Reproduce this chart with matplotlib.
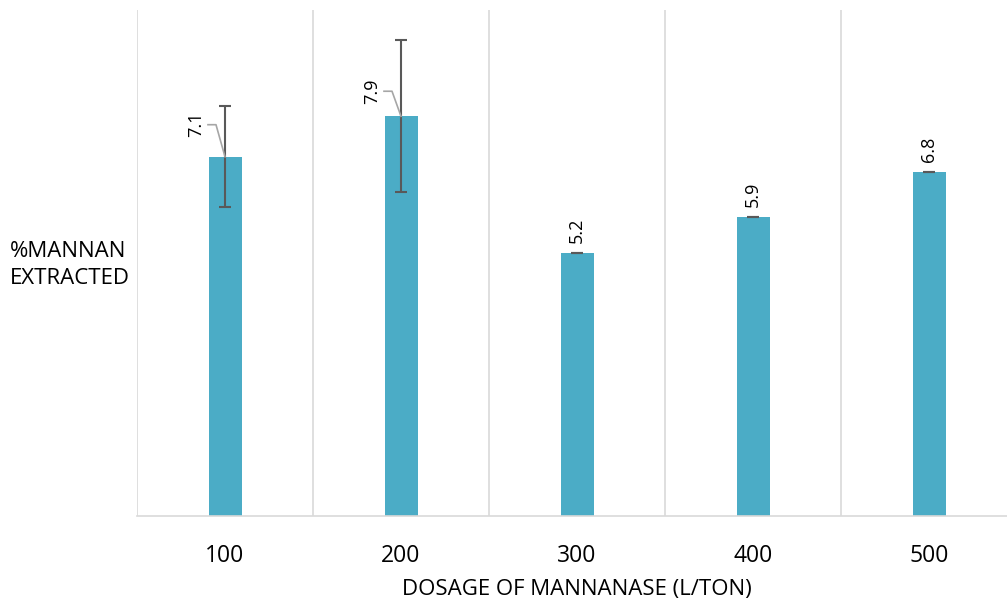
import matplotlib
matplotlib.use("Agg")
import matplotlib.pyplot as plt
import numpy as np

categories = ["100", "200", "300", "400", "500"]
values = [7.1, 7.9, 5.2, 5.9, 6.8]
errors = [1.0, 1.5, 0.0, 0.0, 0.0]
labels = ["7.1", "7.9", "5.2", "5.9", "6.8"]

plt.rcParams['font.family'] = ['Open Sans', 'DejaVu Sans']

W, H = 1007, 601
fig = plt.figure(figsize=(W/100, H/100), dpi=100)
ax = fig.add_axes([137/W, (H-516)/H, 880/W, (516-10)/H])

x = np.arange(len(categories))
ax.bar(x, values, width=0.1875, color="#4BACC6", zorder=2)
ax.errorbar(x, values, yerr=errors, fmt="none", ecolor="#595959",
            elinewidth=1.5, capsize=4, capthick=1.5, zorder=3)

ax.set_xlim(-0.5, 4.5)
ax.set_ylim(0, 10)
ax.set_xticks(x)
ax.set_xticklabels(categories, fontsize=16.5, color="#000000")
ax.set_xticks(np.arange(-0.5, 5, 1.0), minor=True)
ax.tick_params(axis="x", which="both", length=0, pad=20)
ax.set_yticks([])
ax.grid(axis="x", which="minor", color="#D9D9D9", linewidth=1.2, zorder=0)
for s in ["top", "right", "left"]:
    ax.spines[s].set_visible(False)
ax.spines["bottom"].set_color("#D9D9D9")
ax.spines["bottom"].set_linewidth(1.2)

ax.set_xlabel("DOSAGE OF MANNANASE (L/TON)", fontsize=16, color="#000000", labelpad=8)
fig.text(10/W, 1 - 265/H, "%MANNAN\nEXTRACTED", fontsize=16, ha="left", va="center",
         linespacing=1.35)

# data labels
ppu = 50.55  # pixels per unit, for converting offsets
for i, (v, e, lab) in enumerate(zip(values, errors, labels)):
    if e > 0:
        lx = i - 29/176
        ly = v + (32 if i == 0 else 25)/ppu
        ax.text(lx, ly, lab, rotation=90, fontsize=13, ha="center", va="center", color="#000000")
        ax.plot([i - 17/176, i - 9/176, i], [ly, ly, v], color="#A6A6A6", lw=1.2, zorder=4)
    else:
        ax.text(i, v + 10/ppu, lab, rotation=90, fontsize=13, ha="center", va="bottom", color="#000000")

fig.savefig("out.png", dpi=100)
